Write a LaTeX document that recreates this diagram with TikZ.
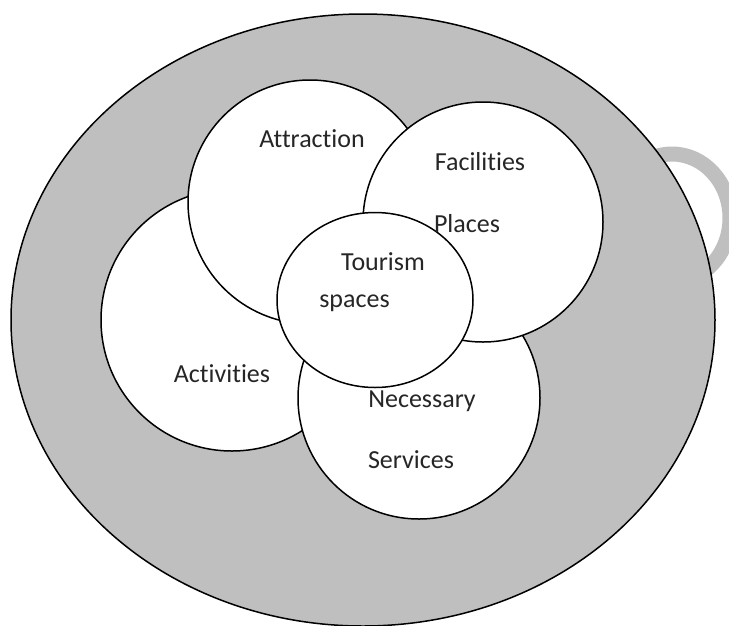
\documentclass[tikz,border=0pt]{standalone}
\usepackage{fontspec}
\setmainfont{Carlito}[Ligatures={NoCommon,NoContextual,NoRare}]
\usetikzlibrary{shapes.geometric}
\definecolor{greyfill}{RGB}{191,191,191}
\definecolor{ink}{RGB}{38,38,38}
\begin{document}
\begin{tikzpicture}[x=1pt,y=-1pt,
  bubble/.style={circle,draw=black,fill=white,line width=1.5pt,inner sep=0pt},
  oval/.style={ellipse,draw=black,line width=1.5pt,inner sep=0pt},
  lbl/.style={anchor=base,text=ink,font=\fontsize{26}{31}\selectfont,inner sep=0pt}]
\useasboundingbox (0,0) rectangle (729,625);
\fill[white] (0,0) rectangle (729,625);
% gray ring behind the big oval
\draw[draw=greyfill,line width=15pt] (672,218) ellipse [x radius=58pt,y radius=64pt];
% big oval
\node[oval,fill=greyfill,minimum width=704pt,minimum height=612pt] (outer) at (363,320) {};
% bubbles
\node[bubble,minimum size=262pt] (activities) at (232,320) {};
\node[bubble,minimum size=242pt] (services) at (419,398) {};
\node[bubble,minimum size=244pt] (attraction) at (310,202) {};
\node[bubble,minimum size=240pt] (facilities) at (483,222) {};
\node[oval,fill=white,minimum width=196pt,minimum height=175pt] (tourism) at (375,300) {};
% labels
\node[lbl] (tAttraction) at (312,147) {Attraction};
\node[lbl] (tFacilities) at (480,170) {Facilities};
\node[lbl] (tPlaces) at (467,232) {Places};
\node[lbl] (tTourism) at (383,270) {Tourism};
\node[lbl] (tSpaces) at (354.5,307) {spaces};
\node[lbl] (tActivities) at (222,382) {Activities};
\node[lbl] (tNecessary) at (422,407) {Necessary};
\node[lbl] (tServices) at (411,468) {Services};
\end{tikzpicture}
\end{document}
